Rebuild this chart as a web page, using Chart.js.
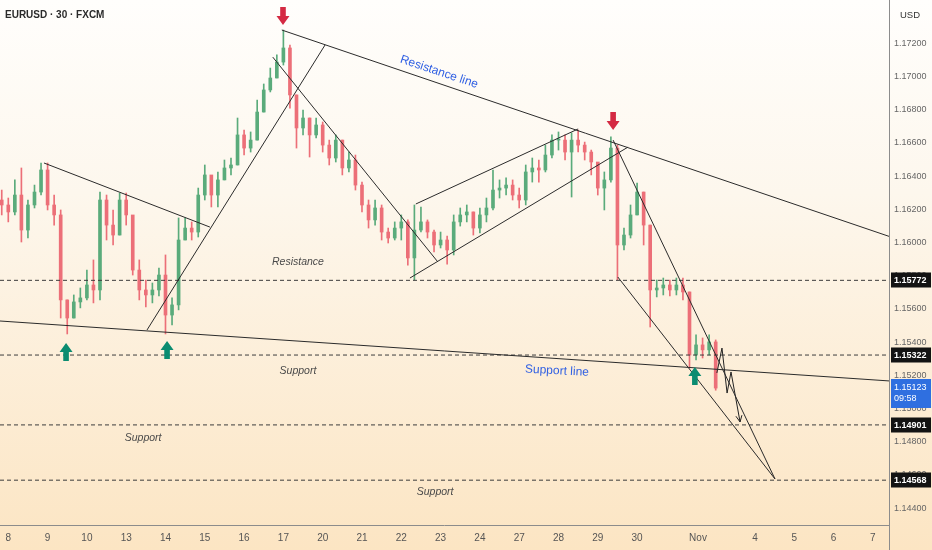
<!DOCTYPE html>
<html>
<head>
<meta charset="utf-8">
<script src="https://cdn.jsdelivr.net/npm/chart.js@4.4.1/dist/chart.umd.min.js"></script>
<style>
  html, body { margin: 0; padding: 0; background: #fffdfa; }
  #wrap { width: 932px; height: 550px; }
</style>
</head>
<body>
<div id="wrap"><canvas id="chart" width="932" height="550"></canvas></div>
<script>
// EURUSD 30m (FXCM), resampled to 6 bars per trading day
const symbolTitle = 'EURUSD · 30 · FXCM';
const barsPerDay = 6;
const firstBarDay = -1 / 6;
const firstOpen = 1.16256;

const closes = [
  1.16226, 1.16184, 1.16286, 1.16075, 1.16226, 1.16304, 1.16437, 1.16226, 1.16166, 1.15654,
  1.15545, 1.15642, 1.15666, 1.15744, 1.15714, 1.16256, 1.16105, 1.16045, 1.16256, 1.16166,
  1.15834, 1.15714, 1.15684, 1.15714, 1.15804, 1.15563, 1.15624, 1.16015, 1.16087, 1.16063,
  1.16286, 1.16407, 1.16286, 1.16377, 1.16449, 1.16467, 1.16648, 1.16569, 1.16617, 1.16786,
  1.16919, 1.16991, 1.17087, 1.17172, 1.16889, 1.16690, 1.16750, 1.16648, 1.16708, 1.16587,
  1.16509, 1.16617, 1.16449, 1.16497, 1.16346, 1.16226, 1.16136, 1.16208, 1.16063, 1.16027,
  1.16087, 1.16124, 1.15907, 1.16075, 1.16124, 1.16063, 1.15985, 1.16015, 1.15955, 1.16124,
  1.16166, 1.16184, 1.16087, 1.16166, 1.16208, 1.16316, 1.16328, 1.16346, 1.16286, 1.16256,
  1.16425, 1.16449, 1.16437, 1.16527, 1.16617, 1.16617, 1.16545, 1.16617, 1.16587, 1.16545,
  1.16485, 1.16328, 1.16377, 1.16569, 1.15985, 1.16045, 1.16166, 1.16304, 1.16105, 1.15714,
  1.15726, 1.15744, 1.15714, 1.15744, 1.15702, 1.15322, 1.15383, 1.15353, 1.15401, 1.15123
];
const highs = [
  1.16316, 1.16268, 1.16377, 1.16449, 1.16256, 1.16346, 1.16479, 1.16479, 1.16286, 1.16196,
  1.15654, 1.15684, 1.15726, 1.15834, 1.15895, 1.16304, 1.16286, 1.16196, 1.16298, 1.16298,
  1.16136, 1.15895, 1.15774, 1.15756, 1.15846, 1.15925, 1.15666, 1.16148, 1.16148, 1.16124,
  1.16328, 1.16467, 1.16377, 1.16425, 1.16497, 1.16509, 1.16750, 1.16678, 1.16666, 1.16858,
  1.16955, 1.17051, 1.17130, 1.17280, 1.17190, 1.16889, 1.16798, 1.16750, 1.16750, 1.16726,
  1.16617, 1.16648, 1.16617, 1.16545, 1.16527, 1.16364, 1.16256, 1.16256, 1.16226, 1.16087,
  1.16124, 1.16166, 1.16136, 1.16226, 1.16214, 1.16136, 1.16075, 1.16063, 1.16039, 1.16166,
  1.16208, 1.16226, 1.16184, 1.16208, 1.16268, 1.16437, 1.16377, 1.16389, 1.16377, 1.16328,
  1.16467, 1.16509, 1.16497, 1.16587, 1.16648, 1.16666, 1.16648, 1.16660, 1.16678, 1.16605,
  1.16557, 1.16467, 1.16425, 1.16636, 1.16587, 1.16087, 1.16226, 1.16358, 1.16304, 1.16105,
  1.15774, 1.15786, 1.15774, 1.15786, 1.15786, 1.15702, 1.15443, 1.15425, 1.15443, 1.15413
];
const lows = [
  1.16166, 1.16124, 1.16166, 1.16003, 1.16027, 1.16208, 1.16286, 1.16196, 1.16105, 1.15545,
  1.15449, 1.15545, 1.15606, 1.15654, 1.15636, 1.15654, 1.16015, 1.15985, 1.16045, 1.16105,
  1.15804, 1.15654, 1.15612, 1.15636, 1.15678, 1.15449, 1.15503, 1.15594, 1.16015, 1.16015,
  1.16033, 1.16256, 1.16214, 1.16214, 1.16377, 1.16407, 1.16467, 1.16527, 1.16545, 1.16617,
  1.16786, 1.16907, 1.16991, 1.17069, 1.16810, 1.16569, 1.16648, 1.16515, 1.16630, 1.16545,
  1.16467, 1.16485, 1.16407, 1.16425, 1.16316, 1.16184, 1.16087, 1.16105, 1.16015, 1.15997,
  1.16015, 1.16015, 1.15864, 1.15775, 1.16063, 1.16027, 1.15943, 1.15967, 1.15870, 1.15925,
  1.16099, 1.16124, 1.16045, 1.16057, 1.16124, 1.16196, 1.16268, 1.16286, 1.16256, 1.16208,
  1.16226, 1.16364, 1.16364, 1.16425, 1.16509, 1.16557, 1.16497, 1.16274, 1.16545, 1.16497,
  1.16407, 1.16286, 1.16196, 1.16364, 1.15775, 1.15955, 1.16027, 1.16166, 1.15985, 1.15491,
  1.15672, 1.15684, 1.15678, 1.15684, 1.15654, 1.15244, 1.15292, 1.15304, 1.15322, 1.15110
];

const dayTicks = [0, 1, 2, 3, 4, 5, 6, 7, 8, 9, 10, 11, 12, 13, 14, 15, 16, 17.55, 19, 20, 21, 22];
const dayLabels = ['8', '9', '10', '13', '14', '15', '16', '17', '20', '21', '22', '23', '24',
                   '27', '28', '29', '30', 'Nov', '4', '5', '6', '7'];
const priceTicks = [1.144, 1.146, 1.148, 1.150, 1.152, 1.154, 1.156, 1.158,
                    1.160, 1.162, 1.164, 1.166, 1.168, 1.170, 1.172];

const levels = [1.15772, 1.15322, 1.14901, 1.14568];
const lastPrice = 1.15123;
const countdown = '09:58';

// drawings: [day, price] pairs
const trendLines = [
  [[0.908, 1.16479], [5.13, 1.16093]],
  [[3.53, 1.15473], [8.06, 1.17190]],
  [[6.96, 1.17280], [22.41, 1.16037]],
  [[6.73, 1.17117], [10.93, 1.15883]],
  [[10.22, 1.15786], [15.77, 1.16575]],
  [[10.37, 1.16232], [14.50, 1.16684]],
  [[15.39, 1.16617], [19.51, 1.14575]],
  [[15.51, 1.15792], [19.51, 1.14575]],
  [[-0.211, 1.15527], [22.41, 1.15166]]
];
const projection = [[18.03, 1.15214], [18.16, 1.15364], [18.29, 1.15093], [18.39, 1.15220], [18.62, 1.14919]];
const redArrows = [[6.99, 1.17310], [15.39, 1.16678]];
const greenArrows = [[1.47, 1.15395], [4.04, 1.15407], [17.47, 1.15250]];
const notes = [
  { text: 'Resistance', day: 7.37, price: 1.15883 },
  { text: 'Support', day: 7.37, price: 1.15226 },
  { text: 'Support', day: 3.43, price: 1.14822 },
  { text: 'Support', day: 10.86, price: 1.14497 },
  { text: 'Resistance line', day: 10.96, price: 1.17027, angle: 18.5, blue: true },
  { text: 'Support line', day: 13.96, price: 1.15226, angle: 3, blue: true }
];

const xMin = -0.211, xMax = 22.41;
const yMin = 1.14298, yMax = 1.17461;

const upColor = '#5aab7b';
const downColor = '#ec6f78';
const sans = "'Liberation Sans', Arial, sans-serif";

const candles = closes.map((c, i) => ({
  x: firstBarDay + i / barsPerDay,
  o: i === 0 ? firstOpen : closes[i - 1],
  h: highs[i], l: lows[i], c
}));
const candleColors = candles.map(k => k.c >= k.o ? upColor : downColor);

const lineSet = (pts, extra) => Object.assign({
  type: 'line',
  data: pts.map(p => ({ x: p[0], y: p[1] })),
  borderColor: '#2b2b2b',
  borderWidth: 1,
  pointRadius: 0,
  fill: false,
  tension: 0
}, extra || {});

const datasets = [
  {
    type: 'bar',
    data: candles.map(k => ({ x: k.x, y: [k.l, k.h] })),
    backgroundColor: candleColors,
    barThickness: 1,
    grouped: false,
    order: 3
  },
  {
    type: 'bar',
    data: candles.map(k => ({ x: k.x, y: [k.o, k.c] })),
    backgroundColor: candleColors,
    barThickness: 3,
    minBarLength: 1,
    grouped: false,
    order: 2
  }
];
levels.forEach(v => datasets.push(lineSet([[xMin, v], [xMax, v]], { borderDash: [4, 3], borderColor: '#3c3c3c', order: 1 })));
trendLines.forEach(t => datasets.push(lineSet(t, { order: 0 })));
datasets.push(lineSet(projection, { borderColor: '#222', order: 0 }));

function drawArrow(ctx, x, tip, dir, color) {
  const base = tip - dir * 18, neck = tip - dir * 9;
  ctx.beginPath();
  ctx.moveTo(x - 2.8, base);
  ctx.lineTo(x + 2.8, base);
  ctx.lineTo(x + 2.8, neck);
  ctx.lineTo(x + 6.5, neck);
  ctx.lineTo(x, tip);
  ctx.lineTo(x - 6.5, neck);
  ctx.lineTo(x - 2.8, neck);
  ctx.closePath();
  ctx.fillStyle = color;
  ctx.fill();
}

const overlay = {
  id: 'overlay',
  beforeDraw(chart) {
    const { ctx, width, height } = chart;
    const g = ctx.createLinearGradient(0, 0, 0, height);
    g.addColorStop(0, '#fffefc');
    g.addColorStop(0.35, '#fdf7ed');
    g.addColorStop(1, '#fce5c3');
    ctx.save();
    ctx.fillStyle = g;
    ctx.fillRect(0, 0, width, height);
    ctx.restore();
  },
  afterDatasetsDraw(chart) {
    const { ctx } = chart;
    const xs = chart.scales.x, ys = chart.scales.y;
    ctx.save();
    // arrowhead at the end of the projected path
    const a = projection[projection.length - 2], b = projection[projection.length - 1];
    const x1 = xs.getPixelForValue(a[0]), y1 = ys.getPixelForValue(a[1]);
    const x2 = xs.getPixelForValue(b[0]), y2 = ys.getPixelForValue(b[1]);
    const ang = Math.atan2(y2 - y1, x2 - x1);
    ctx.strokeStyle = '#222';
    ctx.lineWidth = 1;
    ctx.beginPath();
    ctx.moveTo(x2 - 7 * Math.cos(ang - 0.45), y2 - 7 * Math.sin(ang - 0.45));
    ctx.lineTo(x2, y2);
    ctx.lineTo(x2 - 7 * Math.cos(ang + 0.45), y2 - 7 * Math.sin(ang + 0.45));
    ctx.stroke();

    redArrows.forEach(p => drawArrow(ctx, xs.getPixelForValue(p[0]), ys.getPixelForValue(p[1]), 1, '#d42a43'));
    greenArrows.forEach(p => drawArrow(ctx, xs.getPixelForValue(p[0]), ys.getPixelForValue(p[1]), -1, '#0b8c71'));

    notes.forEach(n => {
      ctx.save();
      ctx.translate(xs.getPixelForValue(n.day), ys.getPixelForValue(n.price));
      if (n.angle) ctx.rotate(n.angle * Math.PI / 180);
      ctx.textAlign = 'center';
      ctx.textBaseline = 'middle';
      if (n.blue) {
        ctx.font = '12px ' + sans;
        ctx.fillStyle = '#2f5fe3';
      } else {
        ctx.font = 'italic 10.5px ' + sans;
        ctx.fillStyle = '#4a4a4a';
      }
      ctx.fillText(n.text, 0, 0);
      ctx.restore();
    });
    ctx.restore();
  },
  afterDraw(chart) {
    const { ctx, chartArea: area, height } = chart;
    const ys = chart.scales.y;
    ctx.save();
    ctx.strokeStyle = '#8c8c8c';
    ctx.lineWidth = 1;
    ctx.beginPath();
    ctx.moveTo(area.right + 0.5, 0);
    ctx.lineTo(area.right + 0.5, height);
    ctx.moveTo(0, area.bottom + 0.5);
    ctx.lineTo(area.right, area.bottom + 0.5);
    ctx.stroke();

    ctx.fillStyle = '#2a2a2a';
    ctx.font = 'bold 10px ' + sans;
    ctx.textAlign = 'left';
    ctx.textBaseline = 'middle';
    ctx.fillText(symbolTitle, 5, 15);

    ctx.fillStyle = '#333';
    ctx.font = '9.5px ' + sans;
    ctx.fillText('USD', 900, 15);

    levels.forEach(v => {
      const y = Math.round(ys.getPixelForValue(v));
      ctx.fillStyle = '#131313';
      ctx.fillRect(area.right + 2, y - 7.5, 40, 15);
      ctx.fillStyle = '#ffffff';
      ctx.font = 'bold 9px ' + sans;
      ctx.fillText(v.toFixed(5), area.right + 5, y + 0.5);
    });

    const yl = Math.round(ys.getPixelForValue(lastPrice));
    ctx.fillStyle = '#2f6fe0';
    ctx.fillRect(area.right + 2, yl - 9, 40, 29);
    ctx.fillStyle = '#ffffff';
    ctx.font = '9px ' + sans;
    ctx.fillText(lastPrice.toFixed(5), area.right + 5, yl);
    ctx.fillText(countdown, area.right + 5, yl + 11);
    ctx.restore();
  }
};

new Chart(document.getElementById('chart').getContext('2d'), {
  type: 'bar',
  data: { datasets },
  options: {
    responsive: false,
    animation: false,
    layout: { padding: 0 },
    plugins: { legend: { display: false }, tooltip: { enabled: false } },
    scales: {
      x: {
        type: 'linear',
        min: xMin,
        max: xMax,
        offset: false,
        grid: { display: false, drawTicks: false },
        border: { display: false },
        afterBuildTicks: s => { s.ticks = dayTicks.map(v => ({ value: v })); },
        afterFit: s => { s.height = 25; s.paddingLeft = 0; s.paddingRight = 0; },
        ticks: {
          autoSkip: false,
          maxRotation: 0,
          padding: 7,
          color: '#555',
          font: { family: sans, size: 10 },
          callback: (v, i) => dayLabels[i]
        }
      },
      y: {
        type: 'linear',
        position: 'right',
        min: yMin,
        max: yMax,
        beginAtZero: false,
        grid: { display: false, drawTicks: false },
        border: { display: false },
        afterBuildTicks: s => { s.ticks = priceTicks.map(v => ({ value: v })); },
        afterFit: s => { s.width = 43; s.paddingTop = 0; s.paddingBottom = 0; },
        ticks: {
          padding: 5,
          color: '#666',
          font: { family: sans, size: 9 },
          callback: v => v.toFixed(5)
        }
      }
    }
  },
  plugins: [overlay]
});
</script>
</body>
</html>
